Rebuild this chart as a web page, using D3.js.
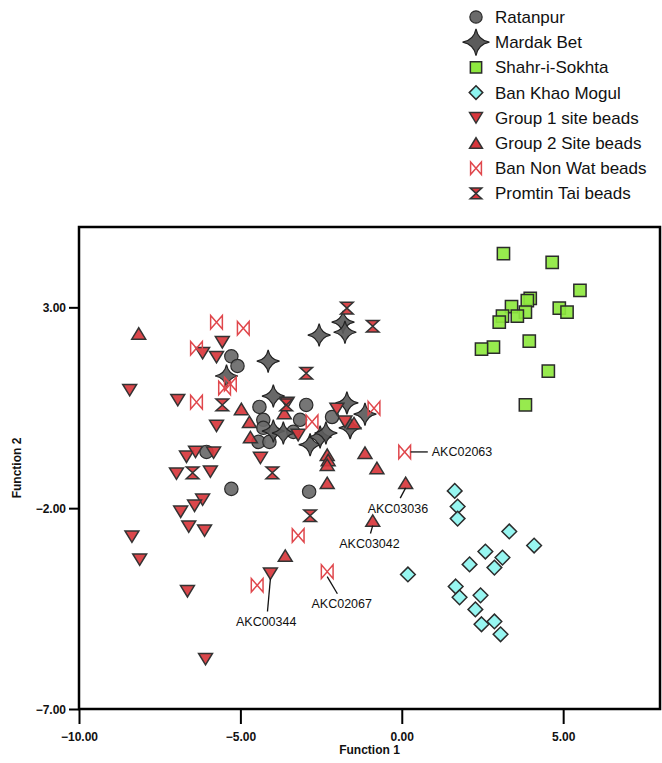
<!DOCTYPE html>
<html>
<head>
<meta charset="utf-8">
<script src="https://cdn.jsdelivr.net/npm/d3@7"></script>
<style>
  body { margin: 0; background: #fff; }
  svg { display: block; font-family: "Liberation Sans", Arial, sans-serif; }
</style>
</head>
<body>
<svg id="chart"></svg>
<script>
// 1. Data (function 1, function 2) per group
const ratanpur = [
  [-5.28, 1.78], [-5.09, 1.54], [-4.41, 0.52], [-4.29, 0.2], [-4.29, 0.0],
  [-4.44, -0.35], [-4.1, -0.35], [-6.05, -0.6], [-5.28, -1.52], [-2.87, -1.59],
  [-3.15, 0.2], [-2.96, 0.57], [-2.16, 0.27], [-3.36, -0.1]
];
const mardakBet = [
  [-5.43, 1.29], [-4.14, 1.66], [-3.98, 0.79], [-3.98, -0.08], [-3.67, -0.13],
  [-2.56, 2.31], [-1.82, 2.63], [-1.76, 2.38], [-1.7, 0.62], [-1.6, 0.0],
  [-2.84, -0.42], [-2.53, -0.23], [-2.35, -0.13], [-1.14, 0.34]
];
const shahrISokhta = [
  [3.15, 4.34], [4.66, 4.12], [5.52, 3.42], [3.98, 3.22], [3.89, 3.17],
  [3.4, 3.02], [4.88, 2.98], [5.12, 2.88], [3.83, 2.88], [3.12, 2.78],
  [3.58, 2.78], [3.02, 2.63], [3.95, 2.16], [2.84, 2.01], [2.47, 1.96],
  [4.54, 1.41], [3.83, 0.57]
];
const banKhaoMogul = [
  [1.64, -1.57], [1.73, -1.96], [1.73, -2.26], [3.33, -2.58], [4.1, -2.93],
  [2.59, -3.08], [3.12, -3.23], [2.1, -3.4], [2.87, -3.48], [0.19, -3.65],
  [1.67, -3.95], [1.79, -4.22], [2.44, -4.17], [2.28, -4.52], [2.47, -4.89],
  [2.87, -4.82], [3.06, -5.14]
];
const group1 = [
  [-5.56, 2.13], [-6.17, 1.86], [-5.74, 1.76], [-8.43, 0.94], [-6.94, 0.69],
  [-5.74, 0.05], [-6.67, -0.72], [-6.39, -0.6], [-5.83, -0.62], [-6.98, -1.14],
  [-5.93, -1.09], [-6.17, -1.79], [-6.42, -1.94], [-6.85, -2.09], [-6.6, -2.46],
  [-6.11, -2.56], [-8.36, -2.71], [-8.12, -3.28], [-6.64, -4.07], [-6.08, -5.76],
  [-4.07, -3.63], [-4.38, -0.75], [-3.55, 0.62], [-3.21, -0.18], [-2.01, 0.47],
  [-1.76, 0.15]
];
const group2 = [
  [-8.15, 2.35], [-4.97, 0.47], [-3.64, 0.37], [-4.72, 0.15], [-4.69, -0.23],
  [-2.31, -0.67], [-2.28, -0.8], [-2.31, -0.92], [-1.14, -0.62], [-0.77, -1.0],
  [-2.31, -1.37], [-3.61, -3.18], [0.12, -1.37], [-0.9, -2.31], [-1.48, 0.12]
];
const banNonWat = [
  [-5.74, 2.63], [-4.91, 2.48], [-6.36, 1.98], [-5.49, 0.99], [-5.31, 1.09],
  [-6.36, 0.64], [-0.86, 0.49], [-2.78, 0.15], [-3.21, -2.68], [-4.48, -3.92],
  [-2.31, -3.58], [0.09, -0.6]
];
const promtinTai = [
  [-1.7, 2.98], [-0.9, 2.53], [-2.96, 1.36], [-5.56, 0.57], [-3.58, 0.57],
  [-6.48, -1.12], [-4.01, -1.12], [-2.84, -2.19]
];

const seriesNames = [
  "Ratanpur", "Mardak Bet", "Shahr-i-Sokhta", "Ban Khao Mogul",
  "Group 1 site beads", "Group 2 Site beads", "Ban Non Wat beads", "Promtin Tai beads"
];
const seriesData = [ratanpur, mardakBet, shahrISokhta, banKhaoMogul, group1, group2, banNonWat, promtinTai];

// labelled samples: name, point, and where the label sits
const labelNames = ["AKC02063", "AKC03036", "AKC03042", "AKC00344", "AKC02067"];
const labelPoints = [[0.09, -0.6], [0.12, -1.37], [-0.9, -2.31], [-4.07, -3.63], [-2.31, -3.58]];
const labelSpots = [[0.93, -0.6], [-0.12, -2.0], [-1.0, -2.88], [-4.2, -4.82], [-1.86, -4.38]];

const xTicks = [-10, -5, 0, 5];
const yTicks = [-7, -2, 3];

// 2. SVG setup
const W = 662, H = 763;
const margin = { top: 227, right: 2, bottom: 54, left: 79 };
const svg = d3.select("#chart").attr("width", W).attr("height", H);

const x = d3.scaleLinear().domain([-10, 8]).range([margin.left, W - margin.right]);
const y = d3.scaleLinear().domain([-7, 5]).range([H - margin.bottom, margin.top]);

// 3. Custom symbol shapes
const star4 = {
  draw(ctx, size) {
    const R = Math.sqrt(size) * 0.75, c = R * 0.16;
    ctx.moveTo(0, -R);
    ctx.quadraticCurveTo(c, -c, R, 0);
    ctx.quadraticCurveTo(c, c, 0, R);
    ctx.quadraticCurveTo(-c, c, -R, 0);
    ctx.quadraticCurveTo(-c, -c, 0, -R);
    ctx.closePath();
  }
};
const diamond = {
  draw(ctx, size) {
    const r = Math.sqrt(size) * 0.62;
    ctx.moveTo(0, -r); ctx.lineTo(r, 0); ctx.lineTo(0, r); ctx.lineTo(-r, 0);
    ctx.closePath();
  }
};
const bowtie = {
  draw(ctx, size) {
    const w = Math.sqrt(size) * 0.45, h = Math.sqrt(size) * 0.52;
    ctx.moveTo(-w, -h); ctx.lineTo(0, 0); ctx.lineTo(-w, h); ctx.closePath();
    ctx.moveTo(w, -h); ctx.lineTo(0, 0); ctx.lineTo(w, h); ctx.closePath();
  }
};
const hourglass = {
  draw(ctx, size) {
    const w = Math.sqrt(size) * 0.5, h = Math.sqrt(size) * 0.46;
    ctx.moveTo(-w, -h); ctx.lineTo(w, -h); ctx.lineTo(0, 0); ctx.closePath();
    ctx.moveTo(-w, h); ctx.lineTo(w, h); ctx.lineTo(0, 0); ctx.closePath();
  }
};
const triDown = {
  draw(ctx, size) {
    const w = Math.sqrt(size) * 0.55, h = Math.sqrt(size) * 0.45;
    ctx.moveTo(-w, -h); ctx.lineTo(w, -h); ctx.lineTo(0, h); ctx.closePath();
  }
};
const triUp = {
  draw(ctx, size) {
    const w = Math.sqrt(size) * 0.55, h = Math.sqrt(size) * 0.45;
    ctx.moveTo(-w, h); ctx.lineTo(w, h); ctx.lineTo(0, -h); ctx.closePath();
  }
};

const styles = [
  { type: d3.symbolCircle, size: 140, fill: "#6a6a6a", stroke: "#2b2b2b", sw: 1.2 },
  { type: star4, size: 230, fill: "#5b5b5b", stroke: "#222", sw: 1.2 },
  { type: d3.symbolSquare, size: 150, fill: "#8ee83f", stroke: "#2b2b2b", sw: 1.5 },
  { type: diamond, size: 140, fill: "#8ef5f0", stroke: "#2b2b2b", sw: 1.5 },
  { type: triDown, size: 160, fill: "#d8373c", stroke: "#333", sw: 1.5 },
  { type: triUp, size: 160, fill: "#d8373c", stroke: "#333", sw: 1.5 },
  { type: bowtie, size: 170, fill: "none", stroke: "#e0474c", sw: 1.5 },
  { type: hourglass, size: 160, fill: "#d8373c", stroke: "#333", sw: 1.5 }
];

// 4. Points
const plot = svg.append("g");
seriesData.forEach((pts, i) => {
  const s = styles[i];
  plot.append("g")
    .selectAll("path")
    .data(pts)
    .join("path")
    .attr("transform", (d) => `translate(${x(d[0])},${y(d[1])})`)
    .attr("d", d3.symbol().type(s.type).size(s.size))
    .attr("fill", s.fill)
    .attr("fill-opacity", s.fill === "none" ? null : 0.92)
    .attr("stroke", s.stroke)
    .attr("stroke-width", s.sw)
    .attr("stroke-linejoin", "miter");
});

// 5. Sample labels with leader lines
labelNames.forEach((name, i) => {
  const [px, py] = labelPoints[i];
  const [lx, ly] = labelSpots[i];
  const horizontal = i === 0;
  const x1 = x(px), y1 = y(py);
  let x2, y2;
  if (horizontal) {
    x2 = x(lx) - 4; y2 = y1;
  } else {
    x2 = x(lx) + (x1 - x(lx)) * 0.3; y2 = y(ly) - 10;
  }
  svg.append("line")
    .attr("x1", horizontal ? x1 + 6 : x1)
    .attr("y1", horizontal ? y1 : y1 + 5)
    .attr("x2", x2).attr("y2", y2)
    .attr("stroke", "#111").attr("stroke-width", 1.3);
  svg.append("text")
    .attr("x", x(lx))
    .attr("y", y(ly))
    .attr("dy", "0.35em")
    .attr("text-anchor", horizontal ? "start" : "middle")
    .attr("font-size", "12.5px")
    .attr("fill", "#111")
    .text(name);
});

// 6. Frame and axes
svg.append("rect")
  .attr("x", margin.left).attr("y", margin.top)
  .attr("width", W - margin.left - margin.right)
  .attr("height", H - margin.top - margin.bottom)
  .attr("fill", "none").attr("stroke", "#000").attr("stroke-width", 2.5);

const xAxis = svg.append("g")
  .attr("transform", `translate(0,${H - margin.bottom})`)
  .call(d3.axisBottom(x).tickValues(xTicks).tickSize(15).tickPadding(8).tickFormat(d3.format(".2f")));
const yAxis = svg.append("g")
  .attr("transform", `translate(${margin.left},0)`)
  .call(d3.axisLeft(y).tickValues(yTicks).tickSize(10).tickPadding(3).tickFormat(d3.format(".2f")));

[xAxis, yAxis].forEach((a) => {
  a.select(".domain").remove();
  a.selectAll(".tick line").attr("stroke", "#000").attr("stroke-width", 2);
  a.selectAll(".tick text")
    .attr("font-family", "'Liberation Sans', Arial, sans-serif")
    .attr("font-size", "12px")
    .attr("font-weight", "bold")
    .attr("fill", "#111");
});
yAxis.selectAll(".tick text").attr("dy", "0.35em");

svg.append("text")
  .attr("x", (margin.left + W - margin.right) / 2)
  .attr("y", 754)
  .attr("text-anchor", "middle")
  .attr("font-size", "12px")
  .attr("font-weight", "bold")
  .attr("fill", "#111")
  .text("Function 1");

svg.append("text")
  .attr("transform", `translate(21,${(margin.top + H - margin.bottom) / 2}) rotate(-90)`)
  .attr("text-anchor", "middle")
  .attr("font-size", "12px")
  .attr("font-weight", "bold")
  .attr("fill", "#111")
  .text("Function 2");

// 7. Legend
const legend = svg.append("g").attr("transform", "translate(476,17)");
seriesNames.forEach((name, i) => {
  const s = styles[i];
  const row = legend.append("g").attr("transform", `translate(0,${i * 25.2})`);
  row.append("path")
    .attr("d", d3.symbol().type(s.type).size(i === 1 ? 320 : s.size * 0.85))
    .attr("fill", s.fill)
    .attr("stroke", s.stroke)
    .attr("stroke-width", s.sw);
  row.append("text")
    .attr("x", 19)
    .attr("dy", "0.35em")
    .attr("font-size", "17px")
    .attr("fill", "#111")
    .text(name);
});
</script>
</body>
</html>
